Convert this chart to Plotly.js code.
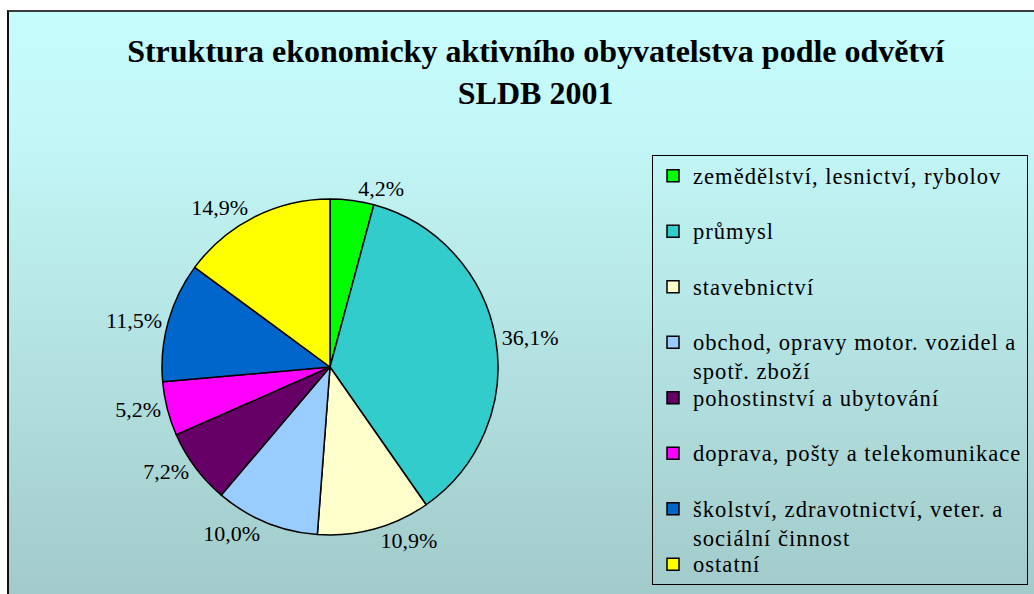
<!DOCTYPE html>
<html>
<head>
<meta charset="utf-8">
<script src="https://cdn.plot.ly/plotly-3.0.1.min.js"></script>
<style>
  html, body { margin: 0; padding: 0; background: #ffffff; overflow: hidden; }
  #wrap { position: relative; width: 1034px; height: 594px; overflow: hidden; background: #ffffff; }
  #bg { position: absolute; left: 7px; top: 10px; width: 1100px; height: 700px;
        border-left: 2px solid #111; border-top: 2px solid #3a3a3a;
        background: linear-gradient(to bottom, #c6fcfc 0px, #c4f8f8 110px, #a2caca 584px); }
  #chart { position: absolute; left: 0; top: 0; width: 1034px; height: 594px; }
  /* wider, letter-spaced legend text like the original office rendering */
  .legendtext { font-size: 22.6px !important; letter-spacing: 1px; }
</style>
</head>
<body>
<div id="wrap">
  <div id="bg"></div>
  <div id="chart"></div>
</div>
<script>
const categories = [
  "zemědělství, lesnictví, rybolov",
  "průmysl",
  "stavebnictví",
  "obchod, opravy motor. vozidel a<br>spotř. zboží",
  "pohostinství a ubytování",
  "doprava, pošty a telekomunikace",
  "školství, zdravotnictví, veter. a<br>sociální činnost",
  "ostatní"
];
const shares = [4.2, 36.1, 10.9, 10.0, 7.2, 5.2, 11.5, 14.9];
const sliceColors = ["#00ff00", "#33cccc", "#ffffcc", "#99ccff", "#660066", "#ff00ff", "#0066cc", "#ffff00"];

const SERIF = "Liberation Serif, Times New Roman, serif";

// pad single-line legend entries (except the last) to two lines so entries share one height
const legendLabels = categories.map((c, i) =>
  (c.indexOf("<br>") >= 0 || i === categories.length - 1) ? c : c + "<br> ");

const trace = {
  type: "pie",
  labels: legendLabels,
  values: shares,
  sort: false,
  direction: "clockwise",
  rotation: 0,
  marker: { colors: sliceColors, line: { color: "#000000", width: 1.5 } },
  textposition: "outside",
  texttemplate: "%{percent:.1%}",
  textfont: { family: SERIF, size: 22, color: "#000000" },
  domain: { x: [162 / 1034, 498 / 1034], y: [1 - 535 / 594, 1 - 199 / 594] },
  hoverinfo: "label+percent",
  automargin: false
};

const layout = {
  width: 1034,
  height: 594,
  margin: { l: 0, r: 0, t: 0, b: 0 },
  font: { family: SERIF, color: "#000000" },
  paper_bgcolor: "rgba(0,0,0,0)",
  plot_bgcolor: "rgba(0,0,0,0)",
  separators: ", ",
  showlegend: true,
  title: {
    text: "<b>Struktura ekonomicky aktivního obyvatelstva podle odvětví<br>SLDB 2001</b>",
    font: { family: SERIF, size: 32, color: "#000000" },
    x: 0.518, xanchor: "center",
    y: 1 - 62 / 594, yanchor: "top"
  },
  legend: {
    x: 652 / 1034, xanchor: "left",
    y: 1 - 155 / 594, yanchor: "top",
    maxheight: 1,
    bgcolor: "rgba(0,0,0,0)",
    bordercolor: "#000000",
    borderwidth: 1,
    valign: "top",
    font: { family: SERIF, size: 20.2, color: "#000000" },
    traceorder: "normal"
  }
};

Plotly.newPlot("chart", [trace], layout, { displayModeBar: false, staticPlot: true });
</script>
</body>
</html>
